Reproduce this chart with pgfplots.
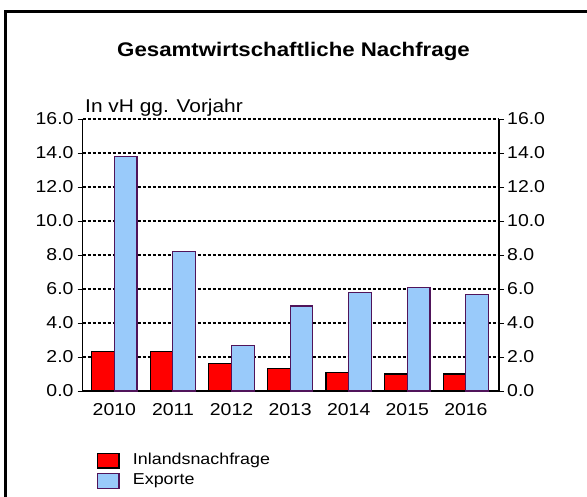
\documentclass[border=0pt]{standalone}
\usepackage{fontspec}
\setmainfont[FakeStretch=1.13]{Liberation Sans}
\usepackage{pgfplots}
\pgfplotsset{compat=1.18}
\definecolor{barred}{RGB}{255,0,0}
\definecolor{barblue}{RGB}{153,202,250}
\definecolor{edgepurple}{RGB}{80,20,90}
\begin{document}
\begin{tikzpicture}
\useasboundingbox (0,0) rectangle (587bp,497bp);
\draw[line width=3bp, line cap=butt] (5.5bp,0) -- (5.5bp,485.5bp) -- (587bp,485.5bp);
\node[anchor=base, font=\fontsize{19.7bp}{22bp}\selectfont\bfseries] at (293.5bp,440.3bp) {Gesamtwirtschaftliche Nachfrage};
\node[anchor=base west, inner sep=0pt, font=\fontsize{18.5bp}{21bp}\selectfont] at (85bp,384bp) {In vH gg. Vorjahr};
\begin{axis}[
  at={(82.7bp,106bp)}, anchor=south west,
  scale only axis, width=416.3bp, height=272bp,
  ymin=0, ymax=16, ytick={0,2,...,16},
  xmin=-0.54, xmax=6.565,
  xtick={0,...,6}, xticklabels={2010,2011,2012,2013,2014,2015,2016},
  axis x line*=bottom, axis y line*=left,
  axis line style={-, line width=1.2bp, black},
  tick align=outside, major tick length=5bp,
  xtick style={draw=none},
  ytick style={line width=0.9bp, black},
  ymajorgrids, major grid style={black, dash pattern=on 3bp off 2bp, line width=1.1bp},
  ticklabel style={font=\fontsize{17.2bp}{20bp}\selectfont},
  /pgf/number format/.cd, fixed, fixed zerofill, precision=1, assume math mode=true,
  /pgfplots/.cd,
  yticklabel style={inner sep=0pt, xshift=-4bp},
  xticklabel style={inner sep=0pt, yshift=-7bp},
  ybar=0pt, bar width=22.7bp,
  legend style={at={(0.0336,-0.2268)}, anchor=north west, draw=none, fill=none,
    inner sep=0pt, font=\fontsize{15.8bp}{18bp}\selectfont,
    nodes={inner sep=0pt, text height=11bp, text depth=3.6bp},
    row sep=4.6bp, column sep=0bp},
  legend cell align=left,
  legend image code/.code={\draw[#1, bar shift=0pt] (0bp,-7.3bp) rectangle (21.6bp,7.3bp); \path (35bp,0bp);},
]
\addplot[draw=black, line width=1.1bp, fill=barred] coordinates {(0,2.3) (1,2.3) (2,1.6) (3,1.3) (4,1.1) (5,1.0) (6,1.0)};
\addlegendentry{Inlandsnachfrage}
\addplot[draw=edgepurple, line width=1.1bp, fill=barblue] coordinates {(0,13.8) (1,8.2) (2,2.7) (3,5.0) (4,5.8) (5,6.1) (6,5.7)};
\addlegendentry{Exporte}
\end{axis}
\begin{axis}[
  at={(82.7bp,106bp)}, anchor=south west,
  scale only axis, width=416.3bp, height=272bp,
  ymin=0, ymax=16, ytick={0,2,...,16},
  xmin=-0.54, xmax=6.565,
  axis x line=none, axis y line*=right,
  axis line style={-, line width=1.2bp, black},
  tick align=outside, major tick length=5bp,
  ytick style={line width=0.9bp, black},
  ticklabel style={font=\fontsize{17.2bp}{20bp}\selectfont},
  /pgf/number format/.cd, fixed, fixed zerofill, precision=1, assume math mode=true,
  /pgfplots/.cd,
  yticklabel style={inner sep=0pt, xshift=3bp},
]
\addplot[draw=none] coordinates {(0,0)};
\end{axis}
\end{tikzpicture}
\end{document}
